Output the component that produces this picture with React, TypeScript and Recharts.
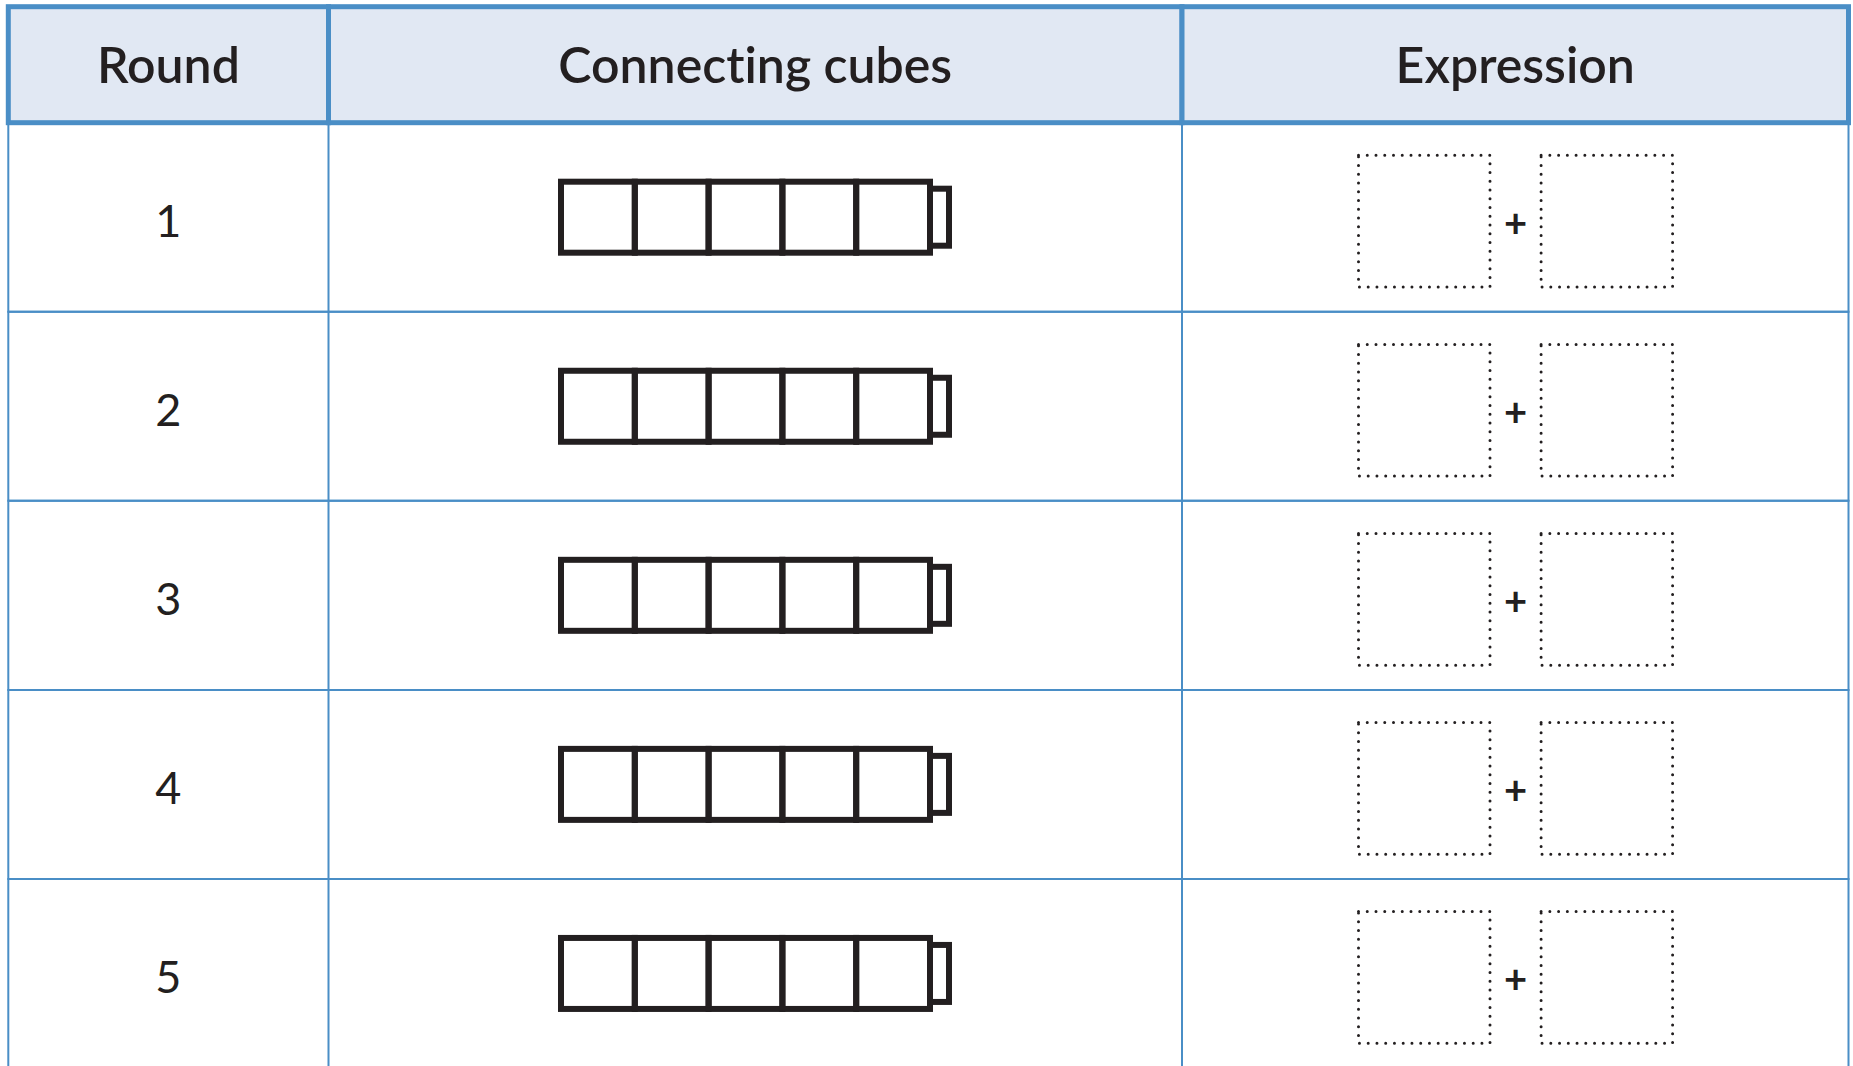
import React from "react";
import { ComposedChart, Bar, XAxis, YAxis, ReferenceLine, ReferenceArea } from "recharts";

// ---------- data ----------
const headers = ["Round", "Connecting cubes", "Expression"];
const rounds = [1, 2, 3, 4, 5];
const cubesPerRound = [5, 5, 5, 5, 5];
const addendBoxesPerRound = [2, 2, 2, 2, 2];
const operators = ["+", "+", "+", "+", "+"];

const rows = rounds.map((r, i) => ({
  round: r,
  cubes: cubesPerRound[i],
  addends: addendBoxesPerRound[i],
  op: operators[i],
}));

// ---------- layout & style ----------
const W = 1853;
const H = 1066;
const CHART_H = 1068;
const TABLE_LEFT = 8.3;
const TABLE_RIGHT = 1848.5;
const TABLE_TOP = 6.7;
const HEADER_H = 116;
const TABLE_W = TABLE_RIGHT - TABLE_LEFT;
const COL_W = [320.2, 853.5, TABLE_W - 320.2 - 853.5];
const COL_EDGES = COL_W.reduce<number[]>((acc, w) => [...acc, acc[acc.length - 1] + w], [0]);
const COL_CENTERS = COL_W.map((w, i) => COL_EDGES[i] + w / 2);

const CUBE_UNIT = 73.8;
const CUBE_START = 561 - TABLE_LEFT;
const CUBE_H = 71;
const STUB_W = 19;
const STUB_H = 57;
const CUBE_STROKE = 6;

const BOX_PITCH = 182.6;
const BOX_START = 1358.5 - TABLE_LEFT;
const BOX_W = 131.5;
const BOX_H = 131.7;
const BOX_DY = 4;

const BLUE = "#4a8ec6";
const HEADER_FILL = "#e1e8f3";
const INK = "#231f20";
const FONT = "Lato, 'Open Sans', sans-serif";
const NO_LIGA: React.CSSProperties = { fontVariantLigatures: "none", fontFeatureSettings: '"liga" 0, "clig" 0' };

const cubeDomain: [number, number] = [-CUBE_START / CUBE_UNIT, (TABLE_W - CUBE_START) / CUBE_UNIT];
const boxDomain: [number, number] = [-BOX_START / BOX_PITCH, (TABLE_W - BOX_START) / BOX_PITCH];

const HeaderTick = (props: any) => {
  const { x, payload, index } = props;
  const i = typeof index === "number" ? index : COL_CENTERS.indexOf(payload.value);
  const w = COL_W[i];
  return (
    <g>
      <rect
        x={x - w / 2}
        y={TABLE_TOP}
        width={w}
        height={HEADER_H}
        fill={HEADER_FILL}
        stroke={BLUE}
        strokeWidth={5}
      />
      <text
        x={x}
        y={TABLE_TOP + 76.5}
        textAnchor="middle"
        fontFamily={FONT}
        fontWeight={600}
        fontSize={50}
        fill={INK}
        style={NO_LIGA}
      >
        {headers[i]}
      </text>
    </g>
  );
};

const RoundTick = (props: any) => {
  const { y, payload } = props;
  return (
    <text
      x={TABLE_LEFT + COL_W[0] / 2}
      y={y + 20}
      textAnchor="middle"
      fontFamily={FONT}
      fontSize={45}
      fill={INK}
    >
      {payload.value}
    </text>
  );
};

const CubeTrain = (props: any) => {
  const { x, y, width, height, payload } = props;
  const n = payload.cubes;
  const u = width / n;
  const cy = y + height / 2;
  const top = cy - CUBE_H / 2;
  return (
    <g>
      {Array.from({ length: n }, (_, k) => (
        <rect
          key={k}
          x={x + k * u}
          y={top}
          width={u}
          height={CUBE_H}
          fill="none"
          stroke={INK}
          strokeWidth={CUBE_STROKE}
        />
      ))}
      <rect
        x={x + width}
        y={cy - STUB_H / 2}
        width={STUB_W}
        height={STUB_H}
        fill="none"
        stroke={INK}
        strokeWidth={CUBE_STROKE}
      />
    </g>
  );
};

const ExpressionBoxes = (props: any) => {
  const { x, y, width, height, payload } = props;
  const n = payload.addends;
  const u = width / n;
  const cy = y + height / 2 + BOX_DY;
  const top = cy - BOX_H / 2;
  return (
    <g>
      {Array.from({ length: n }, (_, k) => (
        <rect
          key={k}
          x={x + k * u}
          y={top}
          width={BOX_W}
          height={BOX_H}
          fill="none"
          stroke={INK}
          strokeWidth={3}
          strokeDasharray="0 8.75"
          strokeLinecap="round"
        />
      ))}
      {Array.from({ length: n - 1 }, (_, k) => (
        <text
          key={"op" + k}
          x={x + k * u + BOX_W + (u - BOX_W) / 2}
          y={cy + 2 + 14}
          textAnchor="middle"
          fontFamily={FONT}
          fontWeight={700}
          fontSize={40}
          fill={INK}
        >
          {payload.op}
        </text>
      ))}
    </g>
  );
};

export default function App() {
  return (
    <div
      style={{
        position: "absolute",
        left: 0,
        top: 0,
        width: W,
        height: H,
        overflow: "hidden",
        background: "#ffffff",
      }}
    >
      <ComposedChart
        width={W}
        height={CHART_H}
        data={rows}
        layout="vertical"
        margin={{ top: TABLE_TOP, right: W - TABLE_RIGHT, bottom: 0, left: TABLE_LEFT }}
        barGap={-CUBE_H}
        barSize={CUBE_H}
      >
        <XAxis
          xAxisId="table"
          type="number"
          orientation="top"
          domain={[0, TABLE_W]}
          allowDataOverflow
          ticks={COL_CENTERS}
          interval={0}
          height={HEADER_H}
          axisLine={false}
          tickLine={false}
          tick={(p: any) => <HeaderTick {...p} />}
        />
        <XAxis xAxisId="cubes" type="number" domain={cubeDomain} allowDataOverflow hide />
        <XAxis xAxisId="expr" type="number" domain={boxDomain} allowDataOverflow hide />
        <YAxis
          type="category"
          dataKey="round"
          mirror
          axisLine={false}
          tickLine={false}
          interval={0}
          tick={(p: any) => <RoundTick {...p} />}
        />
        {rounds.map((r) => (
          <ReferenceArea
            key={"row" + r}
            xAxisId="table"
            y1={r}
            y2={r}
            fill="none"
            fillOpacity={0}
            stroke={BLUE}
            strokeWidth={2}
            strokeOpacity={1}
            ifOverflow="visible"
          />
        ))}
        {COL_EDGES.slice(1, -1).map((e) => (
          <ReferenceLine key={e} xAxisId="table" x={e} stroke={BLUE} strokeWidth={2} />
        ))}
        <Bar
          dataKey="cubes"
          xAxisId="cubes"
          isAnimationActive={false}
          shape={(p: any) => <CubeTrain {...p} />}
        />
        <Bar
          dataKey="addends"
          xAxisId="expr"
          isAnimationActive={false}
          shape={(p: any) => <ExpressionBoxes {...p} />}
        />
      </ComposedChart>
    </div>
  );
}
